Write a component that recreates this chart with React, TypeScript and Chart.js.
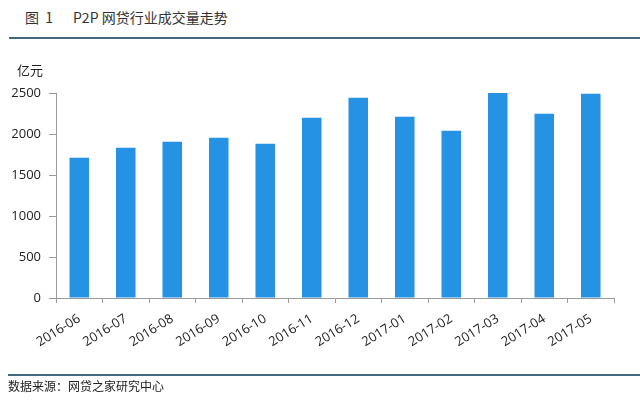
import React, { useEffect, useRef } from "react";
import { Chart, registerables } from "chart.js";

Chart.register(...registerables);

const categories = [
  "2016-06", "2016-07", "2016-08", "2016-09", "2016-10", "2016-11",
  "2016-12", "2017-01", "2017-02", "2017-03", "2017-04", "2017-05",
];
const volumes = [1711, 1833, 1906, 1955, 1882, 2199, 2443, 2211, 2040, 2502, 2248, 2492];
const yTicks = [0, 500, 1000, 1500, 2000, 2500];
const titleText = "图  1";
const titleMain = "P2P 网贷行业成交量走势";
const unitText = "亿元";
const sourceText = "数据来源：网贷之家研究中心";

const FONT = "'Noto Sans CJK SC', 'Noto Sans', sans-serif";
const NUMFONT = "'Open Sans', 'Noto Sans', sans-serif";

export default function App() {
  const ref = useRef<HTMLCanvasElement | null>(null);
  useEffect(() => {
    if (!ref.current) return;
    const chart = new Chart(ref.current, {
      type: "bar",
      data: {
        labels: categories,
        datasets: [
          {
            data: volumes,
            backgroundColor: "#2592e3",
            borderWidth: 0,
            barPercentage: 0.42,
            categoryPercentage: 1,
          },
        ],
      },
      options: {
        animation: false,
        responsive: false,
        maintainAspectRatio: false,
        layout: { padding: { top: 93, right: 26, left: 0, bottom: 0 } },
        plugins: { legend: { display: false }, tooltip: { enabled: false } },
        scales: {
          x: {
            grid: { display: true, drawOnChartArea: false, drawTicks: true, tickLength: 5, color: "#9a9a9a", offset: true },
            border: { display: true, color: "#9a9a9a", width: 1 },
            ticks: {
              color: "#222",
              font: { family: NUMFONT, size: 13 },
              minRotation: 32,
              maxRotation: 32,
              autoSkip: false,
              padding: 8,
            },
            afterFit: (s: any) => { s.height = 103; },
          },
          y: {
            min: 0,
            max: 2500,
            afterBuildTicks: (s: any) => { s.ticks = yTicks.map((v) => ({ value: v })); },
            grid: { display: true, drawOnChartArea: false, drawTicks: true, tickLength: 7, color: "#9a9a9a" },
            border: { display: true, color: "#9a9a9a", width: 1 },
            ticks: {
              color: "#222",
              font: { family: NUMFONT, size: 13 },
              padding: 8,
              callback: (v: any) => String(v),
            },
            afterFit: (s: any) => { s.width = 56; },
          },
        },
      },
    });
    return () => chart.destroy();
  }, []);

  return (
    <div style={{ position: "fixed", left: 0, top: 0, width: 640, height: 401, background: "#fff", fontFamily: FONT, overflow: "hidden" }}>
      <div style={{ position: "absolute", left: 25, top: 8, fontSize: 14, color: "#333", whiteSpace: "pre", lineHeight: "18px" }}>
        {titleText}
      </div>
      <div style={{ position: "absolute", left: 73, top: 8, fontSize: 14, color: "#333", whiteSpace: "pre", lineHeight: "18px" }}>
        {titleMain}
      </div>
      <div style={{ position: "absolute", left: 9, top: 37, width: 631, height: 2, background: "#44697f" }} />
      <canvas ref={ref} width={640} height={401} style={{ position: "absolute", left: 0, top: 0, width: 640, height: 401 }} />
      <div style={{ position: "absolute", left: 17, top: 61, fontSize: 13, color: "#222", lineHeight: "18px" }}>{unitText}</div>
      <div style={{ position: "absolute", left: 8, top: 374, width: 632, height: 2, background: "#44697f" }} />
      <div style={{ position: "absolute", left: 8, top: 378, fontSize: 12, color: "#222", lineHeight: "16px" }}>{sourceText}</div>
    </div>
  );
}
